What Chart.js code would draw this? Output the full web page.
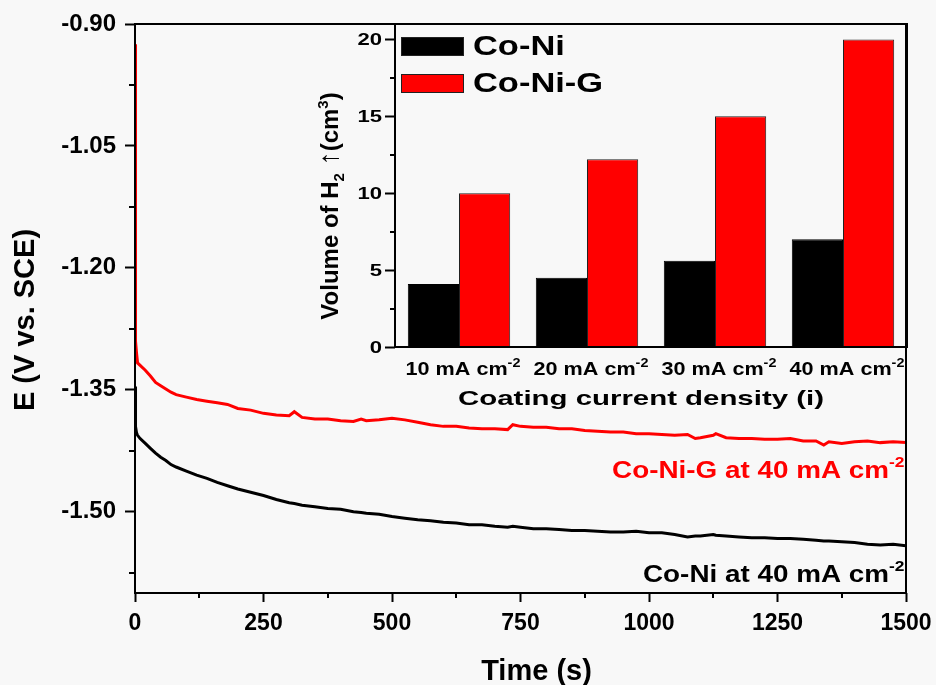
<!DOCTYPE html>
<html>
<head>
<meta charset="utf-8">
<title>Co-Ni / Co-Ni-G</title>
<script src="https://cdn.jsdelivr.net/npm/chart.js@4.4.1/dist/chart.umd.min.js"></script>
<style>
  html, body { margin: 0; padding: 0; background: #f8f8f8; }
  #contenedor { position: relative; width: 936px; height: 685px; overflow: hidden; }
  #grafica { position: absolute; left: 0; top: 0; }
  #recuadro { position: absolute; left: 300px; top: 0; }
</style>
</head>
<body>
<div id="contenedor">
  <canvas id="grafica" width="936" height="685"></canvas>
  <canvas id="recuadro" width="636" height="420"></canvas>
</div>
<script>
/* Curvas de potencial vs tiempo a 40 mA cm-2 */
const tiempo = [0, 1, 3, 5, 10, 20, 30, 40, 50, 60, 70, 80, 100, 120, 140, 160, 180, 200, 225, 250,
  275, 300, 310, 325, 350, 375, 400, 425, 440, 450, 475, 500, 525, 550, 575, 600, 625, 650, 675, 700,
  725, 735, 750, 775, 800, 825, 850, 875, 900, 925, 950, 975, 1000, 1025, 1050, 1075, 1090, 1100, 1125, 1130,
  1150, 1175, 1200, 1225, 1250, 1275, 1300, 1325, 1340, 1350, 1375, 1400, 1425, 1450, 1475, 1500];
const potencialCoNi = [-1.346, -1.395, -1.403, -1.406, -1.410, -1.416, -1.422, -1.428, -1.433, -1.437,
  -1.442, -1.445, -1.450, -1.455, -1.459, -1.464, -1.468, -1.472, -1.476, -1.480,
  -1.485, -1.489, -1.490, -1.492, -1.494, -1.496, -1.497, -1.500, -1.501, -1.502,
  -1.503, -1.506, -1.508, -1.510, -1.511, -1.513, -1.514, -1.516, -1.516, -1.518,
  -1.519, -1.518, -1.519, -1.521, -1.521, -1.522, -1.523, -1.523, -1.524, -1.525,
  -1.525, -1.524, -1.526, -1.526, -1.528, -1.531, -1.530, -1.530, -1.528, -1.529,
  -1.530, -1.531, -1.532, -1.532, -1.533, -1.533, -1.534, -1.535, -1.536, -1.536,
  -1.537, -1.538, -1.540, -1.541, -1.540, -1.542];
const potencialCoNiG = [-0.925, -1.290, -1.305, -1.317, -1.320, -1.326, -1.333, -1.341, -1.345, -1.349,
  -1.353, -1.356, -1.359, -1.362, -1.364, -1.366, -1.368, -1.373, -1.375, -1.379,
  -1.381, -1.382, -1.377, -1.384, -1.386, -1.386, -1.388, -1.389, -1.386, -1.388,
  -1.387, -1.385, -1.387, -1.390, -1.393, -1.395, -1.395, -1.397, -1.398, -1.398,
  -1.399, -1.393, -1.395, -1.396, -1.396, -1.398, -1.398, -1.400, -1.401, -1.402,
  -1.402, -1.404, -1.404, -1.405, -1.406, -1.405, -1.410, -1.409, -1.406, -1.404,
  -1.409, -1.410, -1.410, -1.411, -1.411, -1.410, -1.413, -1.413, -1.418, -1.414,
  -1.416, -1.414, -1.413, -1.415, -1.414, -1.415];
const ticksE = [-1.50, -1.35, -1.20, -1.05, -0.90];
const ticksEmenores = [-1.575, -1.425, -1.275, -1.125, -0.975];
const ticksTiempo = [0, 250, 500, 750, 1000, 1250, 1500];
const ticksTiempoMenores = [125, 375, 625, 875, 1125, 1375];

/* Volumen de H2 desprendido segun la densidad de corriente del recubrimiento */
const densidades = ['10 mA cm', '20 mA cm', '30 mA cm', '40 mA cm'];
const volumenCoNi = [4.1, 4.5, 5.6, 7.0];
const volumenCoNiG = [10.0, 12.2, 15.0, 20.0];
const ticksVolumen = [0, 5, 10, 15, 20];
const ticksVolumenMenores = [2.5, 7.5, 12.5, 17.5];

const FUENTE = '"Liberation Sans", Arial, sans-serif';
const ROJO = '#ff0000';

/* Escribe un texto por partes (para exponentes y subindices).
   partes: [texto, tamaño, desplazamiento vertical] ; sx estira en horizontal */
function escribir(ctx, partes, x, y, op) {
  op = op || {};
  ctx.save();
  ctx.translate(x, y);
  if (op.rot) ctx.rotate(op.rot);
  ctx.fillStyle = op.color || '#000';
  ctx.textBaseline = 'alphabetic';
  ctx.textAlign = 'left';
  let total = 0;
  const anchos = partes.map(p => {
    ctx.font = 'bold ' + p[1] + 'px ' + FUENTE;
    const w = ctx.measureText(p[0]).width;
    total += w;
    return w;
  });
  ctx.scale(op.sx || 1, 1);
  let cx = 0;
  if (op.align === 'center') cx = -total / 2;
  if (op.align === 'right') cx = -total;
  partes.forEach((p, i) => {
    ctx.font = 'bold ' + p[1] + 'px ' + FUENTE;
    ctx.fillText(p[0], cx, p[2] || 0);
    cx += anchos[i];
  });
  ctx.restore();
}

function marcoYTicks(ctx, a, escala, valores, largo, vertical) {
  ctx.save();
  ctx.strokeStyle = '#000';
  ctx.lineWidth = 2;
  ctx.strokeRect(a.left, a.top, a.right - a.left, a.bottom - a.top);
  ctx.beginPath();
  valores.forEach(v => {
    const p = Math.round(escala.getPixelForValue(v));
    if (vertical) { ctx.moveTo(a.left - largo, p); ctx.lineTo(a.left, p); }
    else { ctx.moveTo(p, a.bottom); ctx.lineTo(p, a.bottom + largo); }
  });
  ctx.stroke();
  ctx.restore();
}

/* Marco, ticks menores, etiquetas de curvas y titulos de la grafica principal */
const decoradoPrincipal = {
  id: 'decoradoPrincipal',
  afterDatasetsDraw(chart) {
    const { ctx, chartArea: a, scales: { x, y } } = chart;
    marcoYTicks(ctx, a, y, ticksEmenores, 6, true);
    marcoYTicks(ctx, a, x, ticksTiempoMenores, 5, false);

    escribir(ctx, [['Co-Ni-G at 40 mA cm', 24], ['-2', 15, -11]],
      x.getPixelForValue(1497), y.getPixelForValue(-1.458), { align: 'right', color: ROJO, sx: 1.16 });
    escribir(ctx, [['Co-Ni at 40 mA cm', 24], ['-2', 15, -11]],
      x.getPixelForValue(1497), y.getPixelForValue(-1.587), { align: 'right', sx: 1.16 });

    escribir(ctx, [['Time (s)', 29]], (a.left + a.right) / 2 + 16, 680, { align: 'center' });
    escribir(ctx, [['E (V vs. SCE)', 29]], 34, 320, { align: 'center', rot: -Math.PI / 2 });
  }
};

/* Marco, leyenda y rotulos del recuadro de barras */
const decoradoRecuadro = {
  id: 'decoradoRecuadro',
  afterDraw(chart) {
    const { ctx, chartArea: a, scales: { x, y } } = chart;
    marcoYTicks(ctx, a, y, ticksVolumenMenores, 5, true);

    ticksVolumen.forEach(v => {
      escribir(ctx, [[String(v), 17]], a.left - 13, y.getPixelForValue(v) + 6, { align: 'right', sx: 1.3 });
    });
    densidades.forEach((d, i) => {
      escribir(ctx, [[d, 18], ['-2', 12, -8]], x.getPixelForValue(i) + 4, 375, { align: 'center', sx: 1.2 });
    });
    escribir(ctx, [['Coating current density (i)', 21]], (a.left + a.right) / 2 - 10, 405, { align: 'center', sx: 1.4 });
    escribir(ctx, [['Volume of H', 24], ['2', 15, 6], [' \u2191', 28], ['(cm', 24], ['3', 15, -10], [')', 24]],
      38, 206, { align: 'center', rot: -Math.PI / 2 });

    // leyenda
    chart.data.datasets.forEach((ds, i) => {
      const top = 37 + i * 37;
      ctx.save();
      ctx.fillStyle = ds.backgroundColor;
      ctx.strokeStyle = '#222';
      ctx.lineWidth = 1;
      ctx.fillRect(a.left + 6, top, 63, 19);
      ctx.strokeRect(a.left + 6.5, top + 0.5, 62, 18);
      ctx.restore();
      escribir(ctx, [[ds.label, 28]], a.left + 78, top + 18, { sx: 1.23 });
    });
  }
};

const puntos = serie => tiempo.map((t, i) => ({ x: t, y: serie[i] }));

new Chart(document.getElementById('grafica'), {
  type: 'line',
  data: {
    datasets: [
      { label: 'Co-Ni-G', data: puntos(potencialCoNiG), borderColor: ROJO, borderWidth: 3, pointRadius: 0, tension: 0 },
      { label: 'Co-Ni', data: puntos(potencialCoNi), borderColor: '#000', borderWidth: 3, pointRadius: 0, tension: 0 }
    ]
  },
  options: {
    responsive: false,
    animation: false,
    devicePixelRatio: 1,
    layout: { padding: { top: 24, right: 30, left: 0, bottom: 0 } },
    plugins: { legend: { display: false }, tooltip: { enabled: false } },
    scales: {
      x: {
        type: 'linear', min: 0, max: 1500,
        afterBuildTicks: s => { s.ticks = ticksTiempo.map(v => ({ value: v })); },
        afterFit: s => { s.height = 92; s.paddingLeft = 0; s.paddingRight = 0; },
        border: { display: false },
        grid: { drawOnChartArea: false, drawTicks: true, tickLength: 9, tickWidth: 2, tickColor: '#000' },
        ticks: { color: '#000', padding: 8, maxRotation: 0, autoSkip: false, callback: v => String(v), font: { family: FUENTE, size: 23, weight: 'bold' } }
      },
      y: {
        type: 'linear', min: -1.6, max: -0.9,
        afterBuildTicks: s => { s.ticks = ticksE.map(v => ({ value: v })); },
        afterFit: s => { s.width = 135; s.paddingTop = 0; s.paddingBottom = 0; },
        border: { display: false },
        grid: { drawOnChartArea: false, drawTicks: true, tickLength: 10, tickWidth: 2, tickColor: '#000' },
        ticks: { color: '#000', padding: 9, autoSkip: false, callback: v => v.toFixed(2), font: { family: FUENTE, size: 24, weight: 'bold' } }
      }
    }
  },
  plugins: [decoradoPrincipal]
});

new Chart(document.getElementById('recuadro'), {
  type: 'bar',
  data: {
    labels: densidades,
    datasets: [
      { label: 'Co-Ni', data: volumenCoNi, backgroundColor: '#000', borderColor: '#000', borderWidth: 1 },
      { label: 'Co-Ni-G', data: volumenCoNiG, backgroundColor: ROJO, borderColor: '#222', borderWidth: 1 }
    ]
  },
  options: {
    responsive: false,
    animation: false,
    devicePixelRatio: 1,
    categoryPercentage: 0.8,
    barPercentage: 1.0,
    layout: { padding: { top: 24, right: 29, left: 0, bottom: 0 } },
    plugins: { legend: { display: false }, tooltip: { enabled: false } },
    scales: {
      x: {
        afterFit: s => { s.height = 73; s.paddingLeft = 0; s.paddingRight = 0; },
        border: { display: false },
        grid: { display: false },
        ticks: { display: false }
      },
      y: {
        min: 0, max: 21,
        afterBuildTicks: s => { s.ticks = ticksVolumen.map(v => ({ value: v })); },
        afterFit: s => { s.width = 95; s.paddingTop = 0; s.paddingBottom = 0; },
        border: { display: false },
        grid: { drawOnChartArea: false, drawTicks: true, tickLength: 10, tickWidth: 2, tickColor: '#000' },
        ticks: { display: false }
      }
    }
  },
  plugins: [decoradoRecuadro]
});
</script>
</body>
</html>
